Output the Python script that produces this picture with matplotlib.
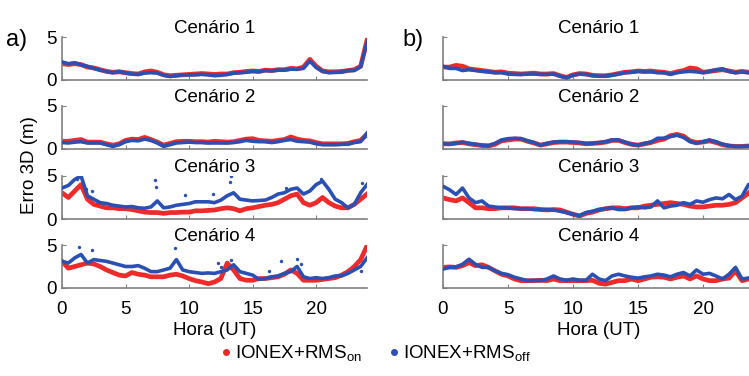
import numpy as np
import matplotlib
matplotlib.use("Agg")
import matplotlib.pyplot as plt
from matplotlib.lines import Line2D

plt.rcParams['font.family'] = ['Liberation Sans', 'DejaVu Sans']
plt.rcParams['mathtext.fontset'] = 'custom'
plt.rcParams['mathtext.rm'] = 'Liberation Sans'

# eixo de tempo (hora UT), passo de 0.5 h
hours = np.arange(0, 24.5, 0.5)

# a) erro 3D (m) - IONEX+RMS_on (vermelho) / IONEX+RMS_off (azul)
a1_on = [1.9, 1.8, 1.9, 1.8, 1.5, 1.4, 1.2, 1.0, 0.9, 0.95, 0.85, 0.75, 0.7, 0.95, 1.05, 0.9, 0.6, 0.5, 0.55, 0.6,
         0.65, 0.7, 0.75, 0.7, 0.65, 0.7, 0.7, 0.85, 0.9, 1.0, 1.05, 1.0, 1.15, 1.1, 1.2, 1.2, 1.35, 1.3, 1.5, 2.4,
         1.6, 1.05, 0.95, 0.95, 1.0, 1.1, 1.2, 1.6, 4.6]
a1_off = [2.1, 1.9, 2.0, 1.75, 1.6, 1.35, 1.15, 1.0, 0.85, 1.0, 0.8, 0.7, 0.65, 0.8, 0.85, 0.8, 0.55, 0.4, 0.5, 0.6,
          0.6, 0.6, 0.65, 0.6, 0.5, 0.55, 0.65, 0.8, 0.85, 0.9, 1.0, 0.95, 1.1, 1.05, 1.15, 1.15, 1.25, 1.25, 1.35, 2.2,
          1.45, 1.0, 0.85, 0.9, 0.9, 1.1, 1.1, 1.55, 4.4]
a2_on = [0.9, 0.9, 1.0, 1.1, 0.8, 0.8, 0.8, 0.6, 0.45, 0.6, 1.0, 1.15, 1.1, 1.35, 1.1, 0.8, 0.45, 0.65, 0.85, 0.9,
         0.9, 0.85, 0.85, 0.8, 0.9, 0.85, 0.8, 0.85, 1.0, 1.15, 1.2, 1.0, 0.95, 0.9, 1.0, 1.1, 1.4, 1.15, 1.0, 0.95,
         0.75, 0.6, 0.6, 0.6, 0.6, 0.65, 0.85, 1.0, 1.7]
a2_off = [0.75, 0.7, 0.8, 0.85, 0.7, 0.7, 0.7, 0.5, 0.3, 0.5, 0.85, 1.0, 0.95, 1.15, 1.0, 0.7, 0.3, 0.5, 0.7, 0.75,
          0.8, 0.75, 0.75, 0.7, 0.7, 0.7, 0.7, 0.75, 0.85, 1.0, 0.9, 0.85, 0.85, 0.75, 0.85, 1.0, 1.1, 0.9, 0.85, 0.8,
          0.6, 0.5, 0.5, 0.5, 0.55, 0.55, 0.75, 0.85, 1.85]
a3_on = [3.05, 2.5, 3.25, 4.0, 2.3, 1.7, 1.5, 1.3, 1.3, 1.2, 1.2, 1.1, 0.95, 0.8, 0.75, 0.75, 0.65, 0.75, 0.75, 0.8,
         0.8, 0.95, 0.95, 1.0, 1.05, 1.2, 1.3, 1.2, 0.95, 1.2, 1.3, 1.45, 1.6, 1.7, 1.9, 2.3, 2.7, 2.9, 1.9, 1.6,
         1.9, 2.5, 1.9, 1.5, 1.3, 1.3, 1.7, 2.3, 2.9]
a3_off = [3.6, 3.9, 4.6, 5.0, 2.7, 2.3, 1.9, 1.8, 1.6, 1.5, 1.4, 1.45, 1.3, 1.25, 1.4, 2.1, 1.3, 1.4, 1.6, 1.7,
          1.8, 2.0, 2.0, 2.0, 1.9, 2.2, 2.7, 3.05, 2.3, 2.2, 2.1, 2.15, 2.2, 2.5, 2.9, 3.05, 3.45, 3.6, 2.9, 3.25,
          4.0, 4.4, 3.45, 2.3, 1.9, 1.3, 1.7, 3.05, 4.0]
a4_on = [3.1, 2.3, 2.5, 2.7, 2.9, 2.8, 2.5, 2.1, 1.8, 1.5, 1.4, 1.8, 1.6, 1.5, 1.3, 1.3, 1.3, 1.5, 1.6, 1.4,
         1.1, 0.85, 0.7, 0.5, 0.7, 1.1, 2.9, 2.1, 1.1, 0.9, 0.9, 1.1, 1.1, 1.2, 1.3, 1.6, 2.1, 1.7, 0.9, 0.9,
         0.9, 1.0, 1.1, 1.2, 1.5, 1.9, 2.5, 3.3, 4.9]
a4_off = [3.1, 2.9, 3.5, 3.9, 2.9, 3.3, 3.2, 3.1, 2.9, 2.7, 2.5, 2.5, 2.6, 2.3, 1.9, 1.9, 2.1, 2.3, 3.3, 2.1,
          1.9, 1.8, 1.7, 1.75, 1.7, 1.9, 2.1, 2.7, 1.9, 1.7, 1.5, 1.0, 1.1, 1.3, 1.4, 1.7, 1.9, 2.5, 1.3, 1.1,
          1.2, 1.1, 1.2, 1.4, 1.4, 1.7, 2.1, 2.5, 3.5]

# b)
b1_on = [1.5, 1.5, 1.7, 1.6, 1.3, 1.2, 1.1, 1.0, 0.9, 0.95, 0.8, 0.75, 0.7, 0.75, 0.8, 0.7, 0.7, 0.75, 0.5, 0.3,
         0.6, 0.75, 0.7, 0.55, 0.5, 0.5, 0.6, 0.75, 0.9, 0.95, 1.05, 1.0, 1.05, 0.95, 0.9, 0.75, 0.95, 1.1, 1.4, 1.3,
         0.9, 1.0, 1.1, 1.2, 1.05, 0.9, 1.0, 0.9, 0.9]
b1_off = [1.6, 1.35, 1.35, 1.1, 1.2, 1.1, 1.0, 0.95, 0.85, 0.85, 0.7, 0.65, 0.65, 0.7, 0.7, 0.65, 0.65, 0.7, 0.45, 0.25,
          0.55, 0.7, 0.65, 0.5, 0.45, 0.45, 0.55, 0.7, 0.85, 0.9, 1.0, 0.95, 0.95, 0.85, 0.85, 0.65, 0.85, 0.95, 1.0, 0.95,
          0.85, 1.0, 1.2, 1.3, 1.0, 0.85, 0.95, 0.85, 0.85]
b2_on = [0.6, 0.6, 0.7, 0.75, 0.6, 0.5, 0.4, 0.35, 0.55, 0.95, 1.05, 1.15, 1.15, 0.9, 0.7, 0.45, 0.6, 0.75, 0.8, 0.8,
         0.75, 0.7, 0.6, 0.65, 0.7, 0.8, 1.0, 1.0, 0.75, 0.55, 0.45, 0.6, 0.75, 1.0, 1.15, 1.55, 1.7, 1.5, 0.95, 0.75,
         0.8, 0.95, 0.75, 0.5, 0.35, 0.3, 0.3, 0.35, 0.4]
b2_off = [0.65, 0.55, 0.65, 0.8, 0.65, 0.55, 0.45, 0.4, 0.65, 1.05, 1.2, 1.25, 1.2, 0.95, 0.75, 0.45, 0.65, 0.8, 0.85, 0.85,
          0.8, 0.75, 0.65, 0.65, 0.75, 0.85, 1.05, 1.05, 0.8, 0.55, 0.45, 0.65, 0.8, 1.25, 1.25, 1.45, 1.6, 1.35, 0.85, 0.65,
          0.85, 1.05, 0.85, 0.55, 0.4, 0.3, 0.3, 0.35, 0.4]
b3_on = [2.45, 2.25, 2.1, 2.45, 1.9, 1.3, 1.3, 1.2, 1.2, 1.3, 1.3, 1.3, 1.2, 1.2, 1.2, 1.1, 1.05, 1.1, 1.05, 0.8,
         0.55, 0.35, 0.65, 0.8, 1.05, 1.2, 1.3, 1.3, 1.2, 1.3, 1.3, 1.5, 1.6, 1.7, 1.8, 1.9, 1.8, 1.7, 1.5, 1.4,
         1.4, 1.5, 1.6, 1.6, 1.7, 1.9, 2.45, 3.0, 3.8]
b3_off = [3.8, 3.4, 2.85, 3.6, 2.45, 1.9, 2.1, 1.5, 1.4, 1.3, 1.3, 1.2, 1.2, 1.2, 1.1, 1.1, 1.1, 1.05, 0.9, 0.75,
          0.55, 0.4, 0.75, 0.9, 1.1, 1.2, 1.3, 1.1, 1.1, 1.3, 1.4, 1.3, 1.4, 2.1, 1.3, 1.5, 1.6, 1.9, 1.7, 2.1,
          1.95, 2.25, 2.45, 2.35, 2.85, 2.25, 2.65, 4.0, 4.2]
b4_on = [2.4, 2.45, 2.4, 2.6, 2.95, 2.6, 2.7, 2.4, 2.0, 1.6, 1.4, 1.05, 0.85, 0.85, 0.85, 0.9, 0.85, 1.05, 0.85, 0.85,
         0.85, 0.85, 0.85, 0.9, 0.55, 0.45, 0.65, 0.85, 0.85, 1.05, 0.85, 1.05, 1.25, 1.3, 1.25, 1.05, 1.25, 1.4, 1.05, 1.4,
         1.05, 0.85, 0.85, 1.05, 1.15, 2.0, 0.85, 1.05, 1.4]
b4_off = [2.2, 2.4, 2.45, 2.75, 3.35, 2.75, 2.4, 2.4, 2.0, 1.7, 1.55, 1.25, 1.05, 0.85, 0.9, 0.85, 1.05, 1.4, 1.05, 0.9,
          1.05, 0.9, 0.9, 1.6, 1.05, 0.85, 1.4, 1.6, 1.4, 1.25, 1.15, 1.3, 1.4, 1.6, 1.5, 1.3, 1.6, 1.8, 1.4, 2.1,
          1.6, 1.7, 1.4, 1.05, 1.6, 2.4, 1.05, 1.15, 1.3]

# pontos isolados (azul) nos cenarios 3 e 4 de a)
a3_out_t = [1.2, 1.9, 2.4, 7.3, 7.4, 9.7, 11.9, 13.2, 13.3, 17.6, 20.4, 23.6]
a3_out_v = [4.7, 3.5, 3.2, 4.5, 3.7, 2.8, 2.9, 4.3, 5.0, 3.6, 4.6, 4.2]
a4_out_t = [1.3, 2.4, 8.9, 12.3, 12.5, 13.3, 16.3, 17.2, 18.5, 18.8, 23.5]
a4_out_v = [4.8, 4.4, 4.6, 2.9, 2.5, 3.3, 2.0, 3.1, 3.4, 2.8, 2.0]

red = '#ee2a2a'
blue = '#2b50b4'
grey = '#808080'

fig = plt.figure(figsize=(7.49, 3.76), dpi=100)
W, H = 749, 376
col_x = [62, 443]
col_w = [305, 312]
row_bottom = [80, 149, 219, 288]
row_h = 43

cols = [
    [(a1_on, a1_off), (a2_on, a2_off), (a3_on, a3_off), (a4_on, a4_off)],
    [(b1_on, b1_off), (b2_on, b2_off), (b3_on, b3_off), (b4_on, b4_off)],
]
outliers = {(0, 2): (a3_out_t, a3_out_v), (0, 3): (a4_out_t, a4_out_v)}

for c in range(2):
    for r in range(4):
        ax = fig.add_axes([col_x[c] / W, 1 - row_bottom[r] / H, col_w[c] / W, row_h / H])
        on, off = cols[c][r]
        ax.plot(hours, on, color=red, lw=3.4, solid_joinstyle='round', zorder=2)
        ax.plot(hours, off, color=blue, lw=2.6, solid_joinstyle='round', zorder=3)
        if (c, r) in outliers:
            t, v = outliers[(c, r)]
            ax.scatter(t, v, s=6, color=blue, zorder=3, linewidths=0)
        ax.set_xlim(0, 24)
        ax.set_ylim(0, 5)
        ax.set_title(f'Cenário {r + 1}', fontsize=13.5, pad=3)
        for s in ['top', 'right']:
            ax.spines[s].set_visible(False)
        for s in ['left', 'bottom']:
            ax.spines[s].set_color(grey)
            ax.spines[s].set_linewidth(1.2)
        ax.set_xticks([0, 5, 10, 15, 20])
        ax.set_yticks([0, 5])
        ax.tick_params(direction='in', length=3, color=grey, labelsize=13.5, pad=4)
        ax.tick_params(axis='x', pad=9)
        if c == 1:
            ax.set_yticklabels([])
        if r < 3:
            ax.set_xticklabels([])
        else:
            ax.set_xlabel('Hora (UT)', fontsize=13.5, labelpad=3)
        ax.set_facecolor('none')

fig.text(30 / W, 1 - 165 / H, 'Erro 3D (m)', rotation=90, ha='center', va='center', fontsize=13.5)
fig.text(6 / W, 1 - 40 / H, 'a)', ha='left', va='center', fontsize=17)
fig.text(402 / W, 1 - 40 / H, 'b)', ha='left', va='center', fontsize=17)

handles = [Line2D([], [], ls='none', marker='o', ms=4, color=red),
           Line2D([], [], ls='none', marker='o', ms=4, color=blue)]
labels = [r'IONEX+RMS$_{\mathregular{on}}$', r'IONEX+RMS$_{\mathregular{off}}$']
fig.legend(handles, labels, loc='center', bbox_to_anchor=(0.5, 1 - 354 / H), ncol=2, frameon=False,
           fontsize=13.5, handletextpad=0.1, columnspacing=1.3, handlelength=0.8)

fig.savefig('out.png', dpi=100)
